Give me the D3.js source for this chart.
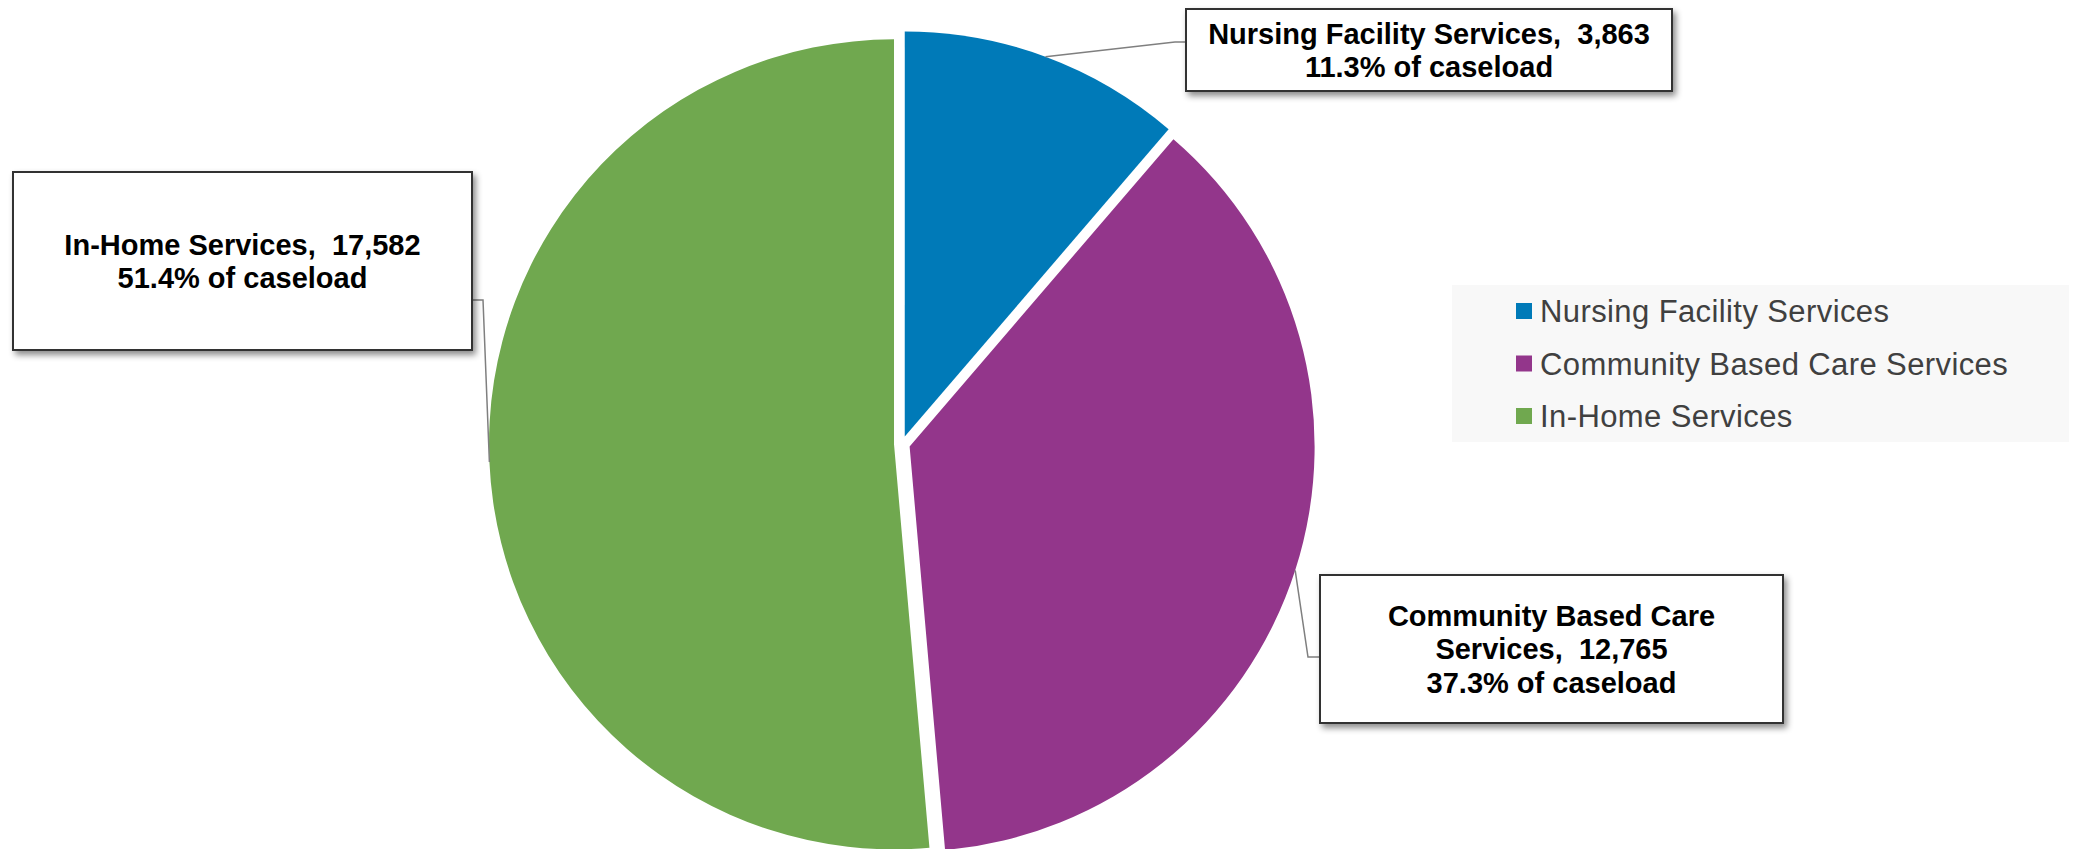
<!DOCTYPE html>
<html>
<head>
<meta charset="utf-8">
<script src="https://cdn.jsdelivr.net/npm/d3@7"></script>
<style>
  html, body { margin: 0; padding: 0; background: #fff; }
  svg { display: block; font-family: "Liberation Sans", Arial, sans-serif; }
</style>
</head>
<body>
<svg id="chart" width="2073" height="849"></svg>
<script>
// caseload by service type
const categories = ['Nursing Facility Services', 'Community Based Care Services', 'In-Home Services'];
const caseload = [3863, 12765, 17582];
const colors = ['#007AB8', '#93368B', '#70A84F'];
// label text lines (first lines of each callout, before the percent line)
const labelLines = [
  ['Nursing Facility Services,  3,863'],
  ['Community Based Care', 'Services,  12,765'],
  ['In-Home Services,  17,582']
];

const width = 2073, height = 849;
const svg = d3.select('#chart');

const cx = 902, cy = 444, radius = 405, explode = 8;

const total = d3.sum(caseload);
const data = categories.map((c, i) => ({name: c, value: caseload[i], color: colors[i], lines: labelLines[i]}));

const pie = d3.pie().sort(null).value(d => d.value);
const arc = d3.arc().innerRadius(0).outerRadius(radius);
const arcs = pie(data);

// drop shadow for callout boxes
const defs = svg.append('defs');
const f = defs.append('filter').attr('id', 'shadow')
  .attr('x', '-10%').attr('y', '-10%').attr('width', '130%').attr('height', '140%');
f.append('feDropShadow').attr('dx', 3).attr('dy', 4).attr('stdDeviation', 3)
  .attr('flood-color', '#000').attr('flood-opacity', 0.45);

// exploded slices
const mid = d => (d.startAngle + d.endAngle) / 2;
const offset = d => [Math.sin(mid(d)) * explode, -Math.cos(mid(d)) * explode];

const g = svg.append('g').attr('transform', `translate(${cx},${cy})`);
g.selectAll('path.slice')
  .data(arcs)
  .enter()
  .append('path')
    .attr('class', 'slice')
    .attr('d', arc)
    .attr('fill', d => d.data.color)
    .attr('transform', d => `translate(${offset(d)[0]},${offset(d)[1]})`);

// callout boxes (layout of the annotation boxes)
const boxes = [
  {x: 1186, y: 9, w: 486, h: 82, elbow: [1175, 42], end: [1186, 42]},
  {x: 1320, y: 575, w: 463, h: 148, elbow: [1308, 657], end: [1320, 657]},
  {x: 13, y: 172, w: 459, h: 178, elbow: [483, 300], end: [472, 300]}
];

// leader lines from the arc at each slice's bisector
arcs.forEach((d, i) => {
  const a = mid(d);
  const o = offset(d);
  const p = [cx + o[0] + Math.sin(a) * radius, cy + o[1] - Math.cos(a) * radius];
  const b = boxes[i];
  svg.append('polyline')
    .attr('points', [p, b.elbow, b.end].map(q => q.join(',')).join(' '))
    .attr('fill', 'none')
    .attr('stroke', '#7f7f7f')
    .attr('stroke-width', 1.5);
});

arcs.forEach((d, i) => {
  const b = boxes[i];
  svg.append('rect')
    .attr('x', b.x).attr('y', b.y).attr('width', b.w).attr('height', b.h)
    .attr('fill', '#fff')
    .attr('stroke', '#333')
    .attr('stroke-width', 2)
    .attr('filter', 'url(#shadow)');

  const pct = d3.format('.1%')(d.data.value / total) + ' of caseload';
  const lines = d.data.lines.concat([pct]);
  const lh = 33.5;
  const cyBox = b.y + b.h / 2;
  const t = svg.append('text')
    .attr('text-anchor', 'middle')
    .attr('font-size', 29)
    .attr('font-weight', 'bold')
    .attr('fill', '#000')
    .style('white-space', 'pre');
  lines.forEach((ln, j) => {
    t.append('tspan')
      .attr('x', b.x + b.w / 2)
      .attr('y', cyBox + (j - (lines.length - 1) / 2) * lh)
      .attr('dy', '0.36em')
      .text(ln);
  });
});

// legend
const legend = svg.append('g');
legend.append('rect')
  .attr('x', 1452).attr('y', 285).attr('width', 617).attr('height', 157)
  .attr('fill', '#f8f8f8');
const ly = d3.scalePoint().domain(categories).range([311, 416]);
categories.forEach((c, i) => {
  legend.append('rect')
    .attr('x', 1516).attr('y', ly(c) - 8).attr('width', 16).attr('height', 16)
    .attr('fill', colors[i]);
  legend.append('text')
    .attr('x', 1540).attr('y', ly(c))
    .attr('dy', '0.36em')
    .attr('font-size', 31)
    .attr('letter-spacing', 0.4)
    .attr('fill', '#404040')
    .text(c);
});
</script>
</body>
</html>
